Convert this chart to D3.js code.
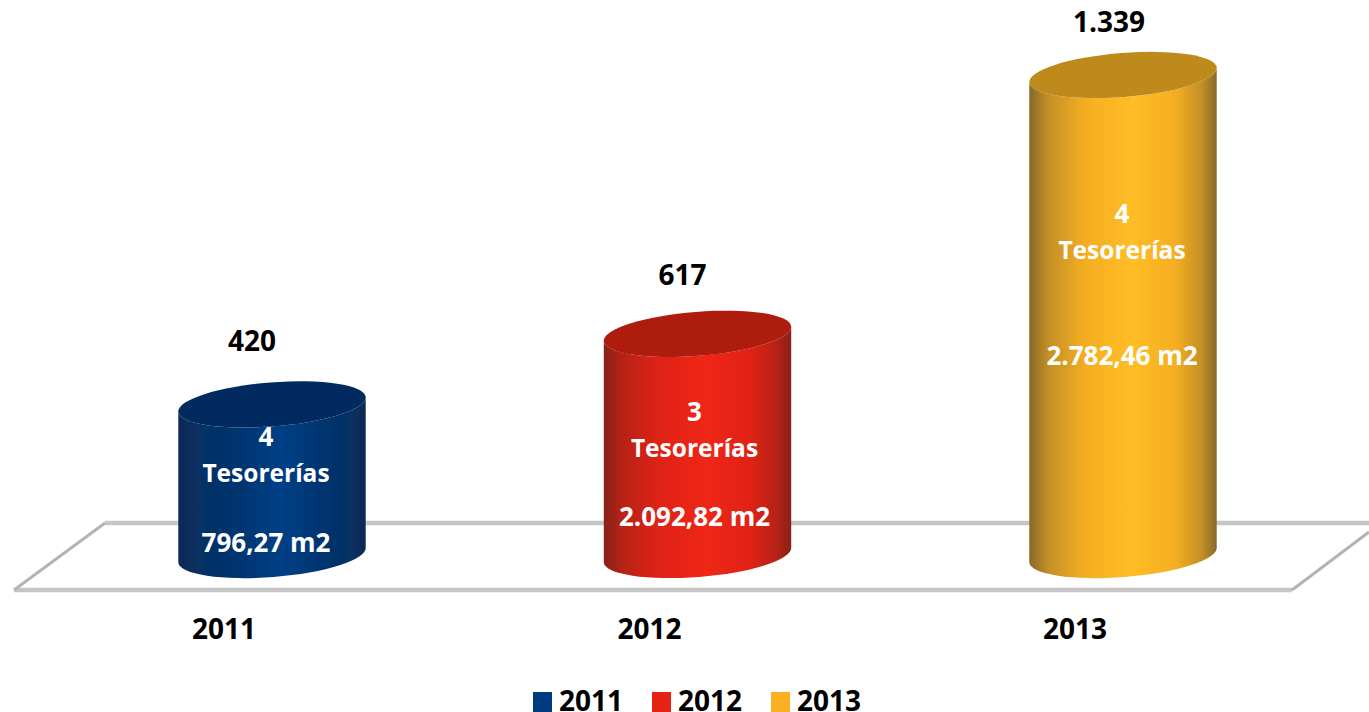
<!DOCTYPE html>
<html>
<head>
<meta charset="utf-8">
<script src="https://d3js.org/d3.v7.min.js"></script>
<style>
  html, body { margin: 0; padding: 0; background: #fff; overflow: hidden; }
  text { font-family: "Open Sans", sans-serif; font-weight: 700; }
</style>
</head>
<body>
<div id="chart"></div>
<script>
// Datos
const years = ["2011", "2012", "2013"];
const values = [420, 617, 1339];
const valueLabels = ["420", "617", "1.339"];
const tesorerias = ["4", "3", "4"];
const areas = ["796,27 m2", "2.092,82 m2", "2.782,46 m2"];

const width = 1369, height = 712;
const palette = {
  "2011": { edge: "#0e2a52", mid: "#02346f", peak: "#013f86", top: "#032c60", key: "#003b7f" },
  "2012": { edge: "#86231a", mid: "#e02416", peak: "#f02516", top: "#ae1b10", key: "#e52313" },
  "2013": { edge: "#86692a", mid: "#f5ae23", peak: "#ffbd25", top: "#bf8a1b", key: "#fbb021" },
};

const x = d3.scalePoint().domain(years).range([272, 1123]);
const y = d3.scaleLinear().domain([0, 1339]).range([555, 75]);

const rx = 94, ry = 22, tilt = -4.5;
const cosT = Math.cos(tilt * Math.PI / 180), sinT = Math.sin(tilt * Math.PI / 180);

const svg = d3.select("#chart").append("svg")
  .attr("width", width).attr("height", height)
  .attr("viewBox", `0 0 ${width} ${height}`)
  .style("display", "block");

const defs = svg.append("defs");
defs.append("filter").attr("id", "soft")
  .append("feGaussianBlur").attr("stdDeviation", 0.6);
years.forEach(yr => {
  const c = palette[yr];
  const mixL = d3.interpolateRgb(c.edge, c.mid);
  const g = defs.append("linearGradient").attr("id", "body" + yr);
  [[0, c.edge], [0.1, mixL(0.55)], [0.3, c.mid], [0.55, c.peak], [0.78, c.mid], [0.92, mixL(0.55)], [1, c.edge]].forEach(s =>
    g.append("stop").attr("offset", s[0]).attr("stop-color", s[1]));
});

// Piso
const floor = svg.append("g").attr("fill", "none").attr("filter", "url(#soft)");
floor.append("path").attr("stroke", "#c6c6c6").attr("stroke-width", 4.5)
  .attr("d", "M1369,523 H105 M14,590 H1292");
floor.append("path").attr("stroke", "#b4b4b4").attr("stroke-width", 3)
  .attr("d", "M105,523 L14,590 M1292,590 L1369,532");

// Cilindros
const cyl = svg.append("g").selectAll("g").data(years).join("g");
const shape = cyl.append("g").attr("filter", "url(#soft)");

shape.append("path")
  .attr("fill", d => `url(#body${d})`)
  .attr("d", (d, i) => {
    const cx = x(d), top = y(values[i]), base = y(0);
    const dx = rx * cosT, dy = rx * sinT;
    return `M${cx - dx},${top - dy}` +
      `L${cx - dx},${base - dy}` +
      `A${rx},${ry} ${tilt} 0 0 ${cx + dx},${base + dy}` +
      `L${cx + dx},${top + dy}` +
      `A${rx},${ry} ${tilt} 0 1 ${cx - dx},${top - dy}Z`;
  });

shape.append("ellipse")
  .attr("rx", rx).attr("ry", ry)
  .attr("fill", d => palette[d].top)
  .attr("transform", (d, i) => `translate(${x(d)},${y(values[i])}) rotate(${tilt})`);

// Etiquetas
const valueDy = [-53, -49, -43], valueDx = [-20, -15, -14];
const countDy = [42, 87, 148], areaDy = [148, 192, 290], innerDx = [-6, -3, -1];

cyl.append("text")
  .attr("text-anchor", "middle").attr("font-size", 28).attr("fill", "#000")
  .attr("x", (d, i) => x(d) + valueDx[i])
  .attr("y", (d, i) => y(values[i]) + valueDy[i])
  .text((d, i) => valueLabels[i]);

const inner = cyl.append("g").attr("fill", "#fff").attr("text-anchor", "middle");
inner.append("text")
  .attr("font-size", 26)
  .attr("x", (d, i) => x(d) + innerDx[i])
  .attr("y", (d, i) => y(values[i]) + countDy[i])
  .text((d, i) => tesorerias[i]);
inner.append("text")
  .attr("font-size", 24.5)
  .attr("x", (d, i) => x(d) + innerDx[i])
  .attr("y", (d, i) => y(values[i]) + countDy[i] + 36)
  .text("Tesorerías");
inner.append("text")
  .attr("font-size", 26)
  .attr("x", (d, i) => x(d) + innerDx[i])
  .attr("y", (d, i) => y(values[i]) + areaDy[i])
  .text((d, i) => areas[i]);

// Eje
svg.append("g").attr("text-anchor", "middle").attr("font-size", 28)
  .selectAll("text").data(years).join("text")
  .attr("x", d => x(d) - 48)
  .attr("y", 639)
  .text(d => d);

// Leyenda
const legendX = d3.scalePoint().domain(years).range([533, 771]);
const legend = svg.append("g").selectAll("g").data(years).join("g")
  .attr("transform", d => `translate(${legendX(d)},692)`);
legend.append("rect").attr("width", 19).attr("height", 20).attr("fill", d => palette[d].key);
legend.append("text").attr("x", 26).attr("y", 19).attr("font-size", 28).text(d => d);
</script>
</body>
</html>
